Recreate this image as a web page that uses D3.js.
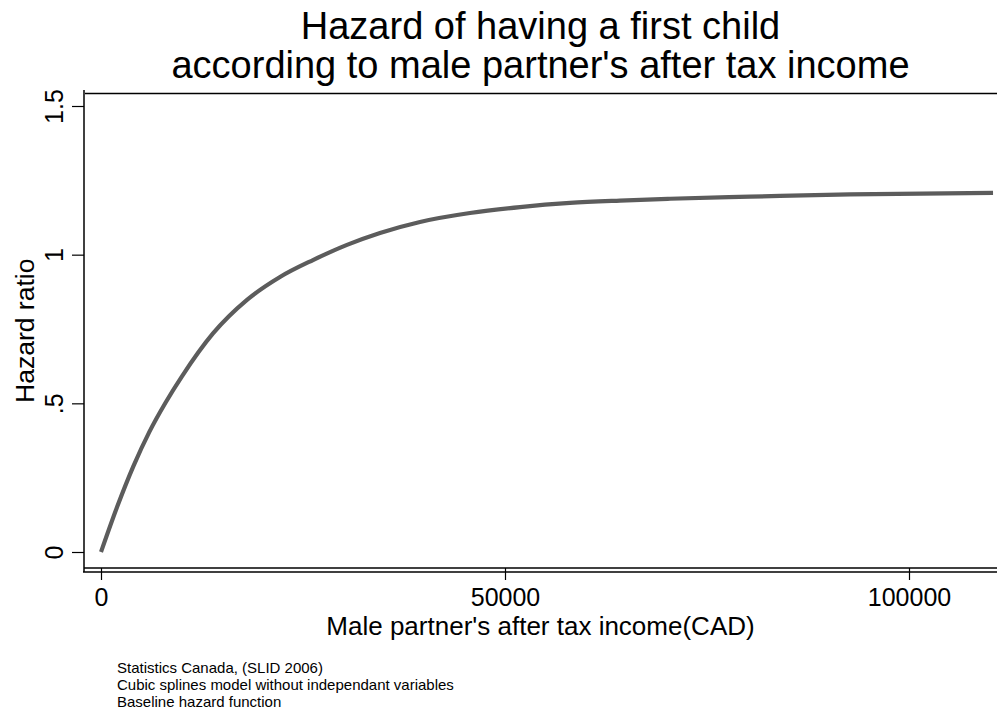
<!DOCTYPE html>
<html>
<head>
<meta charset="utf-8">
<script src="https://cdn.jsdelivr.net/npm/d3@7"></script>
<style>
  html, body { margin: 0; padding: 0; background: #fff; }
  svg { display: block; }
  text { font-family: "Liberation Sans", Arial, Helvetica, sans-serif; fill: #000; }
</style>
</head>
<body>
<svg id="chart" width="997" height="715"></svg>
<script>
// Male partner's after-tax income (CAD) and the estimated baseline hazard ratio
const income = [0, 2000, 4000, 6000, 8000, 10000, 13861, 18069, 22153, 26237, 30445,
                34529, 39480, 45667, 51855, 58044, 64232, 70420, 80320, 92696, 110400];
const hazard = [0, 0.152, 0.288, 0.405, 0.503, 0.590, 0.735, 0.848, 0.925, 0.982, 1.033,
                1.073, 1.110, 1.140, 1.160, 1.174, 1.182, 1.188, 1.195, 1.203, 1.208];

const xTicks = [0, 50000, 100000];
const yTicks = [0, 0.5, 1, 1.5];
const yTickLabels = ["0", ".5", "1", "1.5"];

const titleLines = ["Hazard of having a first child",
                    "according to male partner's after tax income"];
const xTitle = "Male partner's after tax income(CAD)";
const yTitle = "Hazard ratio";
const notes = ["Statistics Canada, (SLID 2006)",
               "Cubic splines model without independant variables",
               "Baseline hazard function"];

const svg = d3.select("#chart");
const W = 997;

// plot region bounds
const pLeft = 84, pRight = W, pTop = 93.5, pBottom = 568, axisY = 572;

const x = d3.scaleLinear().domain([0, 100000]).range([101, 909]);
const y = d3.scaleLinear().domain([0, 1.5]).range([552, 106]);

// plot region border (top and bottom edges)
svg.append("line").attr("x1", pLeft + 1).attr("x2", pRight).attr("y1", pTop).attr("y2", pTop)
  .attr("stroke", "#000").attr("stroke-width", 1.3);
svg.append("line").attr("x1", pLeft).attr("x2", pRight).attr("y1", pBottom).attr("y2", pBottom)
  .attr("stroke", "#000").attr("stroke-width", 1.3);

// x axis
const xAxis = d3.axisBottom(x).tickValues(xTicks).tickSize(12).tickSizeOuter(0)
  .tickFormat(d3.format("d"));
const gx = svg.append("g").attr("transform", `translate(0,${pBottom})`).call(xAxis);
gx.select(".domain").remove();
gx.selectAll(".tick line").attr("stroke", "#000").attr("stroke-width", 1.2);
gx.selectAll(".tick text").attr("font-size", 25).attr("dy", null).attr("y", 38)
  .style("font-family", "'Liberation Sans', Arial, sans-serif").attr("fill", "#000");
svg.append("line").attr("x1", pLeft - 1).attr("x2", pRight).attr("y1", axisY).attr("y2", axisY)
  .attr("stroke", "#000").attr("stroke-width", 1.3);

// y axis
const yAxis = d3.axisLeft(y).tickValues(yTicks).tickSize(12).tickSizeOuter(0)
  .tickFormat((d, i) => yTickLabels[i]);
const gy = svg.append("g").attr("transform", `translate(${pLeft},0)`).call(yAxis);
gy.select(".domain").remove();
gy.selectAll(".tick line").attr("stroke", "#000").attr("stroke-width", 1.2);
gy.selectAll(".tick text")
  .attr("font-size", 25).attr("x", null).attr("dy", null)
  .attr("text-anchor", "middle")
  .attr("transform", "translate(-21,0) rotate(-90)")
  .style("font-family", "'Liberation Sans', Arial, sans-serif").attr("fill", "#000");
svg.append("line").attr("x1", pLeft).attr("x2", pLeft).attr("y1", 90).attr("y2", axisY)
  .attr("stroke", "#000").attr("stroke-width", 1.5);

// hazard curve
const pts = income.map((v, i) => [v, hazard[i]]);
const line = d3.line().x(d => x(d[0])).y(d => y(d[1])).curve(d3.curveMonotoneX);
svg.append("defs").append("clipPath").attr("id", "plotclip")
  .append("rect").attr("x", pLeft).attr("y", pTop).attr("width", pRight - pLeft).attr("height", pBottom - pTop);
svg.append("path").datum(pts)
  .attr("clip-path", "url(#plotclip)")
  .attr("d", line)
  .attr("fill", "none")
  .attr("stroke", "#5c5c5c")
  .attr("stroke-width", 4.2)
  .attr("stroke-linecap", "butt");

// titles
const plotMid = (pLeft + pRight) / 2;
svg.append("text").attr("x", plotMid).attr("y", 39).attr("text-anchor", "middle")
  .attr("font-size", 38).text(titleLines[0]);
svg.append("text").attr("x", plotMid).attr("y", 78).attr("text-anchor", "middle")
  .attr("font-size", 38).text(titleLines[1]);

svg.append("text").attr("x", plotMid).attr("y", 635).attr("text-anchor", "middle")
  .attr("font-size", 26).text(xTitle);

svg.append("text").attr("transform", `translate(34,${(pTop + pBottom) / 2}) rotate(-90)`)
  .attr("text-anchor", "middle").attr("font-size", 26.5).text(yTitle);

// source notes
notes.forEach((n, i) => {
  svg.append("text").attr("x", 117).attr("y", 673 + i * 17).attr("font-size", 15).text(n);
});
</script>
</body>
</html>
